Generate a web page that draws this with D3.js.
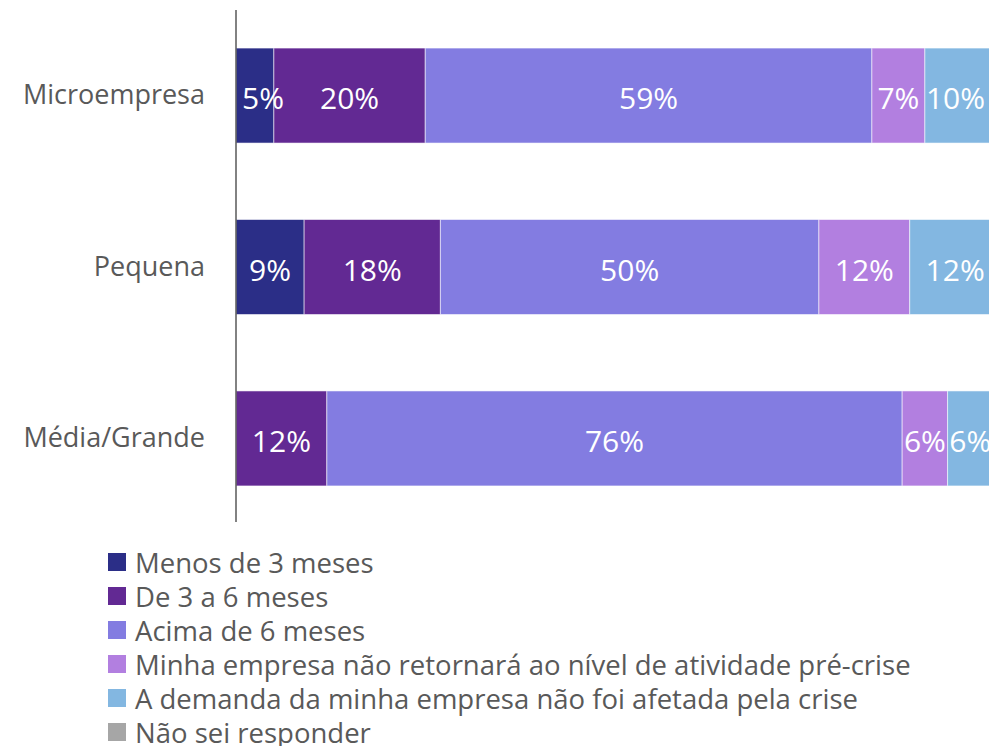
<!DOCTYPE html>
<html>
<head>
<meta charset="utf-8">
<script src="https://cdn.jsdelivr.net/npm/d3@7"></script>
<style>
  html, body { margin: 0; padding: 0; background: #fff; }
  svg { display: block; }
  text { font-family: "Open Sans", "Noto Sans", sans-serif; }
</style>
</head>
<body>
<svg id="chart" width="989" height="746"></svg>
<script>
// Company size categories (top to bottom)
const categories = ["Microempresa", "Pequena", "Média/Grande"];

// Response series, in stacking order (left to right)
const seriesNames = [
  "Menos de 3 meses",
  "De 3 a 6 meses",
  "Acima de 6 meses",
  "Minha empresa não retornará ao nível de atividade pré-crise",
  "A demanda da minha empresa não foi afetada pela crise",
  "Não sei responder"
];

// Share of respondents (%) per series, one value per category
const menos3 = [5, 9, 0];
const de3a6 = [20, 18, 12];
const acima6 = [59, 50, 76];
const naoRetorna = [7, 12, 6];
const naoAfetada = [10, 12, 6];
const naoSei = [0, 0, 0];

const seriesColors = ["#2b2e87", "#622993", "#837ce1", "#b27fe0", "#83b7e1", "#a6a6a6"];

const seriesValues = [menos3, de3a6, acima6, naoRetorna, naoAfetada, naoSei];
const rows = categories.map((c, i) => {
  const r = { category: c };
  seriesNames.forEach((s, j) => { r[s] = seriesValues[j][i]; });
  return r;
});

const W = 989;
const svg = d3.select("#chart");

const x = d3.scaleLinear().domain([0, 100]).range([236, 993]);
const y = d3.scaleBand()
  .domain(categories)
  .range([10, 524])
  .paddingInner(0.446)
  .paddingOuter(0.222);

const stacked = d3.stack().keys(seriesNames)(rows);
const segments = stacked.flatMap(layer =>
  layer.map(v => ({ v, key: layer.key, idx: layer.index })));

// Bar segments
svg.append("g")
  .selectAll("rect")
  .data(segments)
  .join("rect")
  .attr("fill", d => seriesColors[d.idx])
  .attr("x", d => x(d.v[0]))
  .attr("y", d => y(d.v.data.category))
  .attr("width", d => x(d.v[1]) - x(d.v[0]))
  .attr("height", y.bandwidth())
  .attr("stroke", "rgba(255,255,255,0.55)")
  .attr("stroke-width", 1);

// Value labels, drawn above all segments
svg.append("g")
  .selectAll("text")
  .data(segments.filter(d => d.v[1] - d.v[0] > 0))
  .join("text")
  .attr("fill", "#fff")
  .attr("font-size", 30)
  .attr("text-anchor", "middle")
  .attr("dominant-baseline", "central")
  .attr("y", d => y(d.v.data.category) + y.bandwidth() / 2 + 2)
  .text(d => Math.round(d.v[1] - d.v[0]) + "%")
  .each(function (d) {
    const w = this.getComputedTextLength();
    const x0 = x(d.v[0]);
    let cx = (x0 + x(d.v[1])) / 2;
    // keep the first label clear of the axis line
    if (d.v[0] === 0) cx = Math.max(cx, x0 + 6 + w / 2);
    // pull a label back inside the view when it still fits in its segment
    const limit = W - 4 - w / 2;
    if (cx > limit && limit - w / 2 >= x0) cx = limit;
    d3.select(this).attr("x", cx);
  });

// Category axis
const axis = svg.append("g")
  .attr("transform", "translate(236,0)")
  .call(d3.axisLeft(y).tickSize(0).tickPadding(31));
axis.select(".domain")
  .attr("stroke", "#595959")
  .attr("stroke-width", 1.5)
  .attr("d", "M0,10V522");
axis.selectAll(".tick text")
  .attr("fill", "#595959")
  .attr("font-size", 27)
  .style("font-family", "'Open Sans', 'Noto Sans', sans-serif");

// Legend
const legend = svg.append("g")
  .selectAll("g")
  .data(seriesNames)
  .join("g")
  .attr("transform", (d, i) => `translate(108, ${562 + i * 34})`);

legend.append("rect")
  .attr("x", 0)
  .attr("y", -9)
  .attr("width", 18)
  .attr("height", 18)
  .attr("fill", (d, i) => seriesColors[i]);

legend.append("text")
  .attr("x", 27)
  .attr("y", 0)
  .attr("dominant-baseline", "central")
  .attr("fill", "#595959")
  .attr("font-size", 27.5)
  .text(d => d);
</script>
</body>
</html>
